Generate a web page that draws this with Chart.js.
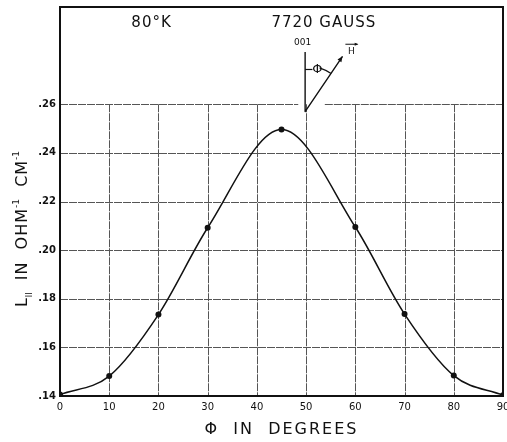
<!DOCTYPE html>
<html>
<head>
<meta charset="utf-8">
<script src="https://cdn.jsdelivr.net/npm/chart.js@4.4.1/dist/chart.umd.min.js"></script>
<style>
html,body{margin:0;padding:0;background:#fff;overflow:hidden;}
</style>
</head>
<body>
<canvas id="chart" width="520" height="442"></canvas>
<script>
// phi (degrees) vs L_parallel (ohm^-1 cm^-1)
const angles = [0, 10, 20, 30, 45, 60, 70, 80, 90];
const conductivity = [0.1406, 0.1482, 0.1735, 0.2092, 0.2496, 0.2095, 0.1737, 0.1484, 0.1403];
const xTicks = [0, 10, 20, 30, 40, 50, 60, 70, 80, 90];
const yTicks = [0.14, 0.16, 0.18, 0.20, 0.22, 0.24, 0.26];
const tempLabel = '80°K';
const fieldLabel = '7720 GAUSS';
const xTitle = 'Φ  IN  DEGREES';

const INK = '#111';
const FONT = '"DejaVu Sans", sans-serif';

function arrowHead(ctx, x1, y1, x2, y2, size) {
  const a = Math.atan2(y2 - y1, x2 - x1);
  ctx.beginPath();
  ctx.moveTo(x2, y2);
  ctx.lineTo(x2 - size * Math.cos(a - 0.4), y2 - size * Math.sin(a - 0.4));
  ctx.lineTo(x2 - size * Math.cos(a + 0.4), y2 - size * Math.sin(a + 0.4));
  ctx.closePath();
  ctx.fill();
}

const paperGrid = {
  id: 'paperGrid',
  beforeDatasetsDraw(chart) {
    const {ctx, chartArea: a, scales: {x, y}} = chart;
    const yLo = y.getPixelForValue(0.14), yHi = y.getPixelForValue(0.26);
    ctx.save();
    ctx.strokeStyle = '#555';
    ctx.lineWidth = 1;
    ctx.setLineDash([8, 1]);
    yTicks.slice(1).forEach(v => {
      const py = Math.round(y.getPixelForValue(v)) + 0.5;
      ctx.beginPath();
      if (v === 0.26) {
        ctx.moveTo(a.left, py); ctx.lineTo(x.getPixelForValue(48.4), py);
        ctx.moveTo(x.getPixelForValue(53.8), py); ctx.lineTo(a.right, py);
      } else {
        ctx.moveTo(a.left, py); ctx.lineTo(a.right, py);
      }
      ctx.stroke();
    });
    xTicks.slice(1, -1).forEach(v => {
      const px = Math.round(x.getPixelForValue(v)) + 0.5;
      ctx.beginPath();
      ctx.moveTo(px, yHi); ctx.lineTo(px, yLo);
      ctx.stroke();
    });
    ctx.setLineDash([]);
    ctx.lineWidth = 2;
    ctx.strokeStyle = INK;
    ctx.strokeRect(a.left, a.top, a.right - a.left, a.bottom - a.top);
    ctx.restore();
  },
  afterDraw(chart) {
    const {ctx, chartArea: a, scales: {x, y}} = chart;
    const P = (vx, vy) => [x.getPixelForValue(vx), y.getPixelForValue(vy)];
    ctx.save();
    ctx.fillStyle = INK;
    ctx.strokeStyle = INK;
    ctx.lineJoin = 'round';
    ctx.textAlign = 'center';
    ctx.textBaseline = 'middle';
    ctx.letterSpacing = '1px';

    // header labels
    ctx.font = '15px ' + FONT;
    let p = P(18.6, 0.2934);
    ctx.fillText(tempLabel, p[0], p[1]);
    p = P(53.6, 0.2934);
    ctx.fillText(fieldLabel, p[0], p[1]);

    // inset: [001] axis and field direction H at angle phi
    const o = P(49.8, 0.2570), top = P(49.8, 0.2815), tip = P(57.4, 0.2797);
    ctx.lineWidth = 1.4;
    ctx.beginPath();
    ctx.moveTo(top[0], top[1]); ctx.lineTo(o[0], o[1]); ctx.lineTo(tip[0], tip[1]);
    ctx.stroke();
    arrowHead(ctx, o[0], o[1], tip[0], tip[1], 6);
    ctx.font = '9px ' + FONT;
    ctx.letterSpacing = '0px';
    p = P(49.3, 0.2852);
    ctx.fillText('001', p[0], p[1]);
    p = P(59.2, 0.2818);
    ctx.fillText('H', p[0], p[1]);
    ctx.lineWidth = 1;
    ctx.beginPath();
    ctx.moveTo(p[0] - 6, p[1] - 7); ctx.lineTo(p[0] + 6, p[1] - 7);
    ctx.stroke();
    arrowHead(ctx, p[0] - 6, p[1] - 7, p[0] + 7, p[1] - 7, 4);
    ctx.font = '13px ' + FONT;
    p = P(52.3, 0.2743);
    ctx.fillText('Φ', p[0], p[1]);
    ctx.lineWidth = 1.2;
    ctx.beginPath();
    ctx.moveTo(o[0], p[1]); ctx.lineTo(p[0] - 5, p[1]);
    ctx.stroke();
    ctx.beginPath();
    ctx.arc(o[0], o[1], 46, -Math.PI / 2 + 0.32, -Math.PI / 2 + 0.6);
    ctx.stroke();

    // axis titles
    ctx.font = '16px ' + FONT;
    ctx.letterSpacing = '2px';
    ctx.fillText(xTitle, (a.left + a.right) / 2, 430);

    ctx.translate(21, 229);
    ctx.rotate(-Math.PI / 2);
    ctx.textAlign = 'left';
    ctx.textBaseline = 'alphabetic';
    const parts = [
      ['L', 16, 0], ['II', 8, 5], ['  IN  OHM', 16, 0], ['-1', 9, -8], ['  CM', 16, 0], ['-1', 9, -8]
    ];
    const spacing = s => (s > 10 ? '1px' : '0px');
    let w = 0;
    parts.forEach(([t, s]) => { ctx.font = s + 'px ' + FONT; ctx.letterSpacing = spacing(s); w += ctx.measureText(t).width; });
    let cx = -w / 2;
    parts.forEach(([t, s, dy]) => {
      ctx.font = s + 'px ' + FONT;
      ctx.letterSpacing = spacing(s);
      ctx.fillText(t, cx, 6 + dy);
      cx += ctx.measureText(t).width;
    });
    ctx.restore();
  }
};

new Chart(document.getElementById('chart'), {
  type: 'line',
  data: {
    labels: angles,
    datasets: [{
      data: angles.map((a, i) => ({x: a, y: conductivity[i]})),
      borderColor: INK,
      borderWidth: 1.5,
      backgroundColor: INK,
      pointRadius: 3,
      pointBackgroundColor: INK,
      pointBorderWidth: 0,
      cubicInterpolationMode: 'monotone',
      fill: false
    }]
  },
  options: {
    responsive: false,
    animation: false,
    devicePixelRatio: 1,
    layout: {padding: {left: 0, right: 17, top: 7, bottom: 0}},
    plugins: {legend: {display: false}, tooltip: {enabled: false}},
    scales: {
      x: {
        type: 'linear',
        min: 0, max: 90,
        afterBuildTicks: s => { s.ticks = xTicks.map(v => ({value: v})); },
        afterFit: s => { s.height = 46; s.paddingLeft = 0; s.paddingRight = 0; },
        grid: {display: false, drawTicks: false},
        border: {display: false},
        ticks: {color: INK, padding: 5, maxRotation: 0, font: {family: FONT, size: 10}, callback: v => String(v)}
      },
      y: {
        min: 0.14, max: 0.30,
        afterBuildTicks: s => { s.ticks = yTicks.map(v => ({value: v})); },
        afterFit: s => { s.width = 60; s.paddingTop = 0; s.paddingBottom = 0; },
        grid: {display: false, drawTicks: false},
        border: {display: false},
        ticks: {color: INK, padding: 4, font: {family: FONT, size: 10, weight: 'bold'}, callback: v => '.' + v.toFixed(2).slice(2)}
      }
    }
  },
  plugins: [paperGrid]
});
</script>
</body>
</html>
